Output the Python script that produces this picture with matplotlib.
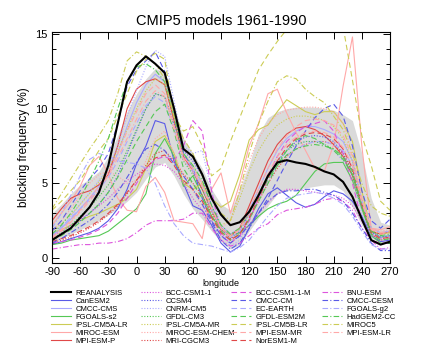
import numpy as np
import matplotlib
matplotlib.use("Agg")
import matplotlib.pyplot as plt
from matplotlib.ticker import MultipleLocator

plt.rcParams['font.family'] = ['Liberation Sans', 'DejaVu Sans']
plt.rcParams['axes.unicode_minus'] = False

# longitude grid (deg)
lon = list(range(-90, 271, 10))

# observed blocking frequency (%)
reanalysis = [1.2, 1.6, 2.0, 2.7, 3.4, 4.4, 6.2, 9.0, 11.8, 12.9, 13.5, 13.0, 12.4, 10.0, 7.3, 6.8, 5.6, 4.0, 2.9,
              2.2, 2.4, 3.1, 4.2, 5.5, 6.4, 6.55, 6.4, 6.3, 6.1, 5.8, 5.6, 5.1, 4.1, 2.6, 1.2, 0.9, 1.1]

# multi-model spread (grey band)
band_low = [1.0, 1.3, 1.6, 1.9, 2.2, 2.5, 2.9, 3.3, 3.8, 4.4, 5.3, 6.1, 6.4, 5.5, 4.3, 3.3, 2.6, 1.8, 1.1,
            0.6, 0.9, 1.8, 2.7, 3.5, 4.3, 4.5, 4.6, 4.7, 4.8, 4.9, 4.9, 4.5, 3.4, 2.2, 1.3, 1.1, 1.1]
band_high = [3.0, 3.6, 4.3, 4.9, 5.3, 5.8, 6.8, 8.2, 9.8, 11.0, 12.0, 12.7, 12.4, 10.2, 8.0, 7.0, 6.0, 4.6, 3.6,
             3.2, 4.6, 6.3, 8.3, 9.4, 9.8, 10.0, 10.1, 10.1, 10.1, 10.0, 9.9, 9.6, 9.2, 7.0, 4.0, 2.4, 2.2]

# legend order: column by column
models = ['CanESM2', 'CMCC-CMS', 'FGOALS-s2', 'IPSL-CM5A-LR', 'MIROC-ESM', 'MPI-ESM-P',
          'BCC-CSM1-1', 'CCSM4', 'CNRM-CM5', 'GFDL-CM3', 'IPSL-CM5A-MR', 'MIROC-ESM-CHEM', 'MRI-CGCM3',
          'BCC-CSM1-1-M', 'CMCC-CM', 'EC-EARTH', 'GFDL-ESM2M', 'IPSL-CM5B-LR', 'MPI-ESM-MR', 'NorESM1-M',
          'BNU-ESM', 'CMCC-CESM', 'FGOALS-g2', 'HadGEM2-CC', 'MIROC5', 'MPI-ESM-LR']

model_vals = {
    'CanESM2': [0.9, 1.1, 1.3, 1.5, 1.7, 2.0, 2.5, 3.3, 4.6, 6.3, 7.5, 9.2, 9.0, 6.5, 5.0, 3.5, 3.2, 2.2, 1.0,
                0.4, 0.8, 2.0, 3.3, 4.3, 4.7, 4.2, 3.7, 3.4, 3.6, 4.1, 4.5, 4.3, 3.8, 2.8, 1.5, 1.1, 1.2],
    'CMCC-CMS': [1.5, 2.0, 2.6, 3.3, 4.0, 4.8, 5.7, 7.0, 8.8, 10.4, 11.6, 12.3, 11.8, 9.5, 7.0, 6.0, 5.0, 3.5, 2.2,
                 1.6, 2.0, 3.2, 4.6, 6.0, 7.2, 8.0, 8.5, 8.8, 8.8, 8.6, 8.3, 7.8, 6.5, 3.8, 1.8, 1.4, 1.5],
    'FGOALS-s2': [0.9, 1.0, 1.2, 1.3, 1.4, 1.5, 1.8, 2.3, 2.8, 3.3, 4.3, 7.0, 8.0, 6.8, 4.8, 5.5, 4.2, 2.8, 1.9,
                  1.5, 1.7, 2.2, 2.8, 3.3, 3.6, 3.8, 4.2, 5.0, 5.8, 6.3, 6.4, 6.4, 5.2, 3.3, 1.5, 1.0, 1.0],
    'IPSL-CM5A-LR': [1.7, 1.9, 2.2, 2.5, 2.8, 3.0, 3.3, 3.6, 4.0, 4.6, 6.0, 7.8, 8.2, 7.0, 5.0, 4.6, 5.0, 4.0, 3.4,
                     3.8, 5.6, 7.9, 8.6, 8.9, 9.8, 10.6, 10.2, 9.8, 9.6, 9.8, 9.8, 9.0, 7.8, 4.5, 1.8, 1.6, 1.7],
    'MIROC-ESM': [2.2, 3.0, 3.8, 4.8, 6.2, 6.8, 5.6, 4.0, 3.2, 3.1, 4.8, 5.4, 4.4, 2.5, 2.4, 2.3, 1.3, 4.6, 5.7,
                  3.0, 5.0, 7.5, 9.0, 11.0, 11.3, 9.7, 8.4, 7.2, 6.0, 5.8, 7.6, 11.5, 14.8, 7.5, 2.0, 1.9, 2.1],
    'MPI-ESM-P': [2.5, 3.3, 4.0, 4.3, 4.5, 4.9, 5.6, 7.5, 10.0, 11.3, 11.8, 12.0, 11.6, 9.2, 6.8, 5.8, 4.6, 3.2, 2.0,
                  1.5, 2.0, 3.5, 5.0, 6.5, 7.6, 8.3, 8.7, 8.8, 8.6, 8.2, 7.6, 6.8, 5.5, 3.5, 1.8, 1.6, 1.8],
    'BCC-CSM1-1': [1.5, 1.8, 2.2, 2.6, 3.0, 3.5, 4.0, 4.6, 5.2, 5.6, 6.0, 6.3, 6.2, 5.8, 5.0, 4.0, 3.2, 2.4, 1.6,
                   1.2, 1.4, 2.2, 3.0, 3.7, 4.3, 4.6, 4.6, 4.5, 4.4, 4.3, 4.2, 4.0, 3.5, 2.5, 1.6, 1.3, 1.4],
    'CCSM4': [1.3, 1.6, 2.0, 2.5, 3.0, 3.6, 4.4, 5.5, 7.0, 8.5, 10.0, 11.0, 10.8, 9.0, 7.2, 6.5, 5.5, 3.5, 2.0,
              1.3, 1.8, 3.0, 4.3, 5.4, 6.4, 7.2, 7.8, 8.1, 8.2, 8.1, 7.8, 7.0, 5.8, 3.5, 1.7, 1.4, 1.5],
    'CNRM-CM5': [1.4, 2.0, 2.8, 3.6, 4.4, 5.2, 6.0, 7.5, 9.5, 11.2, 12.8, 13.9, 13.5, 10.5, 7.5, 7.0, 7.2, 4.5, 2.0,
                 0.8, 1.2, 2.5, 4.0, 5.5, 6.5, 7.2, 7.6, 7.8, 7.8, 7.6, 7.2, 6.5, 5.5, 3.0, 1.5, 1.2, 1.3],
    'GFDL-CM3': [1.3, 1.7, 2.2, 2.8, 3.4, 4.1, 4.9, 5.9, 7.2, 8.6, 10.0, 11.0, 10.8, 8.8, 6.5, 5.6, 4.6, 3.2, 2.0,
                 1.5, 1.9, 3.0, 4.3, 5.5, 6.5, 7.2, 7.6, 7.8, 7.8, 7.6, 7.3, 6.7, 5.6, 3.4, 1.8, 1.4, 1.5],
    'IPSL-CM5A-MR': [1.8, 2.3, 2.9, 3.6, 4.3, 5.1, 6.0, 7.2, 8.6, 10.0, 11.2, 12.0, 11.6, 9.4, 7.0, 6.2, 5.0, 3.4,
                     2.2, 2.5, 4.0, 5.8, 7.2, 8.2, 8.9, 9.3, 9.5, 9.5, 9.4, 9.2, 8.8, 8.0, 6.5, 4.0, 2.0, 1.7, 1.8],
    'MIROC-ESM-CHEM': [1.8, 2.5, 3.3, 4.2, 5.0, 5.6, 5.8, 5.5, 5.0, 5.2, 6.5, 8.0, 8.5, 7.0, 5.5, 4.5, 3.5, 2.6,
                       2.0, 2.5, 4.5, 6.5, 8.0, 9.0, 9.6, 9.9, 10.0, 10.1, 10.1, 10.0, 9.8, 9.0, 7.0, 4.0, 2.0, 1.8,
                       1.9],
    'MRI-CGCM3': [1.0, 1.2, 1.4, 1.7, 2.0, 2.4, 2.9, 3.5, 4.3, 5.2, 6.2, 7.0, 7.2, 6.5, 5.6, 5.0, 4.2, 3.0, 1.9,
                  1.3, 1.6, 2.6, 3.8, 5.0, 6.0, 6.8, 7.3, 7.6, 7.8, 7.8, 7.6, 7.0, 5.8, 3.5, 1.6, 1.2, 1.3],
    'BCC-CSM1-1-M': [1.0, 1.1, 1.2, 1.4, 1.6, 1.9, 2.3, 3.0, 4.0, 5.0, 6.0, 6.6, 6.8, 6.5, 7.5, 9.2, 8.5, 4.5, 1.5,
                     1.0, 1.5, 2.5, 4.0, 5.5, 6.8, 7.8, 8.4, 8.8, 9.0, 9.2, 8.5, 7.0, 5.0, 2.5, 1.2, 1.0, 1.0],
    'CMCC-CM': [1.8, 2.5, 3.5, 4.5, 5.3, 6.0, 7.0, 9.0, 11.5, 12.6, 13.2, 13.8, 12.5, 10.0, 7.0, 6.0, 4.0, 2.5, 1.5,
                1.0, 1.5, 2.2, 3.0, 4.0, 5.2, 6.4, 7.5, 8.5, 9.4, 10.0, 10.3, 9.5, 7.5, 4.5, 2.5, 2.0, 2.6],
    'EC-EARTH': [1.6, 2.1, 2.7, 3.3, 3.9, 4.6, 5.4, 6.5, 7.8, 9.0, 10.2, 10.8, 10.4, 8.6, 6.6, 5.8, 4.8, 3.2, 2.0,
                 1.4, 1.8, 2.8, 4.0, 5.2, 6.2, 6.9, 7.3, 7.6, 7.8, 7.8, 7.6, 7.2, 6.2, 3.8, 2.0, 1.7, 1.8],
    'GFDL-ESM2M': [1.2, 1.5, 1.9, 2.4, 3.0, 3.6, 4.4, 5.4, 6.6, 7.8, 8.8, 9.8, 10.3, 8.5, 6.0, 5.0, 4.0, 2.8, 1.8,
                   1.2, 1.6, 2.6, 3.8, 5.0, 6.2, 7.2, 7.9, 8.2, 8.0, 7.6, 7.2, 6.6, 5.6, 3.5, 1.6, 1.2, 1.3],
    'IPSL-CM5B-LR': [3.2, 3.8, 4.5, 5.2, 6.2, 7.2, 8.0, 9.5, 11.0, 12.5, 13.3, 13.7, 13.3, 9.5, 8.5, 8.8, 7.5, 5.5,
                     6.0, 7.8, 9.4, 11.0, 12.6, 13.6, 14.5, 15.3, 15.8, 16.0, 16.0, 16.0, 15.8, 15.5, 11.9, 8.2,
                     6.2, 3.8, 3.2],
    'MPI-ESM-MR': [1.4, 1.9, 2.5, 3.2, 4.0, 4.8, 5.7, 7.0, 8.5, 9.8, 11.0, 11.6, 11.0, 8.8, 6.8, 6.0, 5.0, 3.4, 2.0,
                   1.5, 2.0, 3.2, 4.6, 6.0, 7.3, 8.2, 8.8, 9.2, 9.3, 9.2, 8.9, 8.2, 6.8, 4.0, 2.0, 1.7, 1.8],
    'NorESM1-M': [1.1, 1.3, 1.5, 1.8, 2.1, 2.5, 3.0, 3.6, 4.4, 5.2, 6.0, 6.7, 6.9, 6.2, 5.2, 4.6, 3.8, 2.7, 1.7,
                  1.2, 1.6, 2.7, 4.0, 5.3, 6.5, 7.4, 8.0, 8.3, 8.4, 8.3, 8.0, 7.3, 6.0, 3.6, 1.7, 1.3, 1.4],
    'BNU-ESM': [0.6, 0.7, 0.8, 0.9, 0.9, 1.0, 1.0, 1.1, 1.3, 1.7, 2.2, 2.5, 2.5, 2.5, 2.6, 3.0, 3.0, 2.0, 1.2,
                0.8, 1.0, 1.5, 2.0, 2.3, 2.9, 3.2, 3.3, 3.4, 3.6, 3.9, 4.0, 3.8, 3.2, 2.0, 1.2, 0.6, 0.7],
    'CMCC-CESM': [1.0, 1.3, 1.7, 2.1, 2.5, 3.0, 3.6, 4.4, 5.4, 6.4, 7.3, 7.6, 7.2, 6.3, 5.5, 4.6, 3.6, 2.4, 1.2,
                  0.6, 1.0, 2.0, 3.0, 3.8, 4.3, 4.5, 4.5, 4.6, 4.6, 4.4, 4.2, 3.8, 3.0, 2.0, 1.0, 0.5, 0.5],
    'FGOALS-g2': [2.0, 3.0, 4.2, 5.5, 6.6, 7.0, 6.8, 6.5, 6.4, 6.3, 6.0, 5.0, 3.5, 2.3, 1.5, 1.0, 0.9, 0.8, 0.6,
                  0.4, 0.7, 1.2, 2.0, 2.8, 3.5, 4.0, 4.2, 4.3, 4.4, 4.3, 4.0, 3.6, 2.8, 1.8, 0.9, 0.6, 0.6],
    'HadGEM2-CC': [1.6, 2.2, 3.0, 4.0, 5.2, 6.5, 8.0, 10.0, 11.8, 12.8, 13.0, 12.6, 11.8, 9.5, 7.0, 6.2, 5.2, 3.5,
                   2.2, 1.6, 2.0, 3.0, 4.2, 5.3, 6.2, 6.9, 7.3, 7.5, 7.6, 7.5, 7.3, 6.8, 5.8, 3.5, 1.8, 1.5, 1.6],
    'MIROC5': [3.3, 4.3, 5.3, 6.3, 7.3, 8.2, 9.2, 11.0, 13.2, 13.8, 13.5, 13.0, 12.0, 9.5, 8.0, 7.0, 5.5, 4.0, 3.0,
               2.5, 4.5, 7.0, 9.0, 10.5, 11.8, 12.2, 12.0, 11.3, 10.8, 10.4, 9.5, 8.6, 7.0, 5.0, 3.5, 3.0, 2.8],
    'MPI-ESM-LR': [1.3, 1.8, 2.4, 3.1, 3.8, 4.6, 5.5, 6.7, 8.0, 9.3, 10.5, 11.2, 10.8, 8.6, 6.6, 5.8, 4.8, 3.3, 2.0,
                   1.4, 1.9, 3.0, 4.3, 5.6, 6.8, 7.6, 8.1, 8.4, 8.5, 8.4, 8.1, 7.4, 6.2, 3.7, 1.9, 1.6, 1.7],
}

# colour / line style per model
magenta, blue, lav, green, yellow, pink, red = '#dd55dd', '#5a5ae6', '#aaaaff', '#55c855', '#cccc55', '#ffa8a8', '#e04848'
dash, dot, dashdot = (0, (5, 3)), (0, (1, 1.5)), (0, (5, 2, 1, 2))
styles = {
    'BCC-CSM1-1': (magenta, dot), 'BCC-CSM1-1-M': (magenta, dash), 'BNU-ESM': (magenta, dashdot),
    'CanESM2': (blue, '-'), 'CCSM4': (blue, dot), 'CMCC-CM': (blue, dash), 'CMCC-CESM': (blue, dashdot),
    'CMCC-CMS': (lav, '-'), 'CNRM-CM5': (lav, dot), 'EC-EARTH': (lav, dash), 'FGOALS-g2': (lav, dashdot),
    'FGOALS-s2': (green, '-'), 'GFDL-CM3': (green, dot), 'GFDL-ESM2M': (green, dash), 'HadGEM2-CC': (green, dashdot),
    'IPSL-CM5A-LR': (yellow, '-'), 'IPSL-CM5A-MR': (yellow, dot), 'IPSL-CM5B-LR': (yellow, dash),
    'MIROC5': (yellow, dashdot),
    'MIROC-ESM': (pink, '-'), 'MIROC-ESM-CHEM': (pink, dot), 'MPI-ESM-MR': (pink, dash), 'MPI-ESM-LR': (pink, dashdot),
    'MPI-ESM-P': (red, '-'), 'MRI-CGCM3': (red, dot), 'NorESM1-M': (red, dash),
}

fig = plt.figure(figsize=(4.32, 3.54), dpi=100)
ax = fig.add_axes([0.1204, 0.2571, 0.7824, 0.6525])

ax.fill_between(lon, band_low, band_high, color='#dadada', lw=0, zorder=1)

handles = {}
for m in models:
    c, ls = styles[m]
    handles[m], = ax.plot(lon, model_vals[m], color=c, linestyle=ls, lw=0.8, zorder=2, label=m)
handles['REANALYSIS'], = ax.plot(lon, reanalysis, color='black', lw=1.5, zorder=3, label='REANALYSIS')

ax.set_xlim(-90, 270)
ax.set_ylim(-0.33, 15.13)
ax.xaxis.set_major_locator(MultipleLocator(30))
ax.yaxis.set_major_locator(MultipleLocator(5))
ax.yaxis.set_minor_locator(MultipleLocator(1))
ax.tick_params(which='both', direction='in', top=True, right=True, labelsize=8, pad=3)
ax.tick_params(which='major', length=5, width=0.7)
ax.tick_params(which='minor', length=3, width=0.7)
ax.tick_params(axis='x', which='minor', bottom=False, top=False)
for s in ax.spines.values():
    s.set_linewidth(0.8)

ax.set_title('CMIP5 models 1961-1990', fontsize=10.5, pad=5)
ax.set_ylabel('blocking frequency (%)', fontsize=8.5, labelpad=4)
ax.set_xlabel('longitude', fontsize=6.5, labelpad=1)

# legend: four separate columns
cols = [['REANALYSIS'] + models[0:6], models[6:13], models[13:20], models[20:26]]
xs = [0.118, 0.327, 0.535, 0.745]
for names, x0 in zip(cols, xs):
    fig.legend([handles[n] for n in names], names, loc='upper left', bbox_to_anchor=(x0, 0.182),
               frameon=False, fontsize=5.5, handlelength=2.6, handletextpad=0.6,
               labelspacing=0.08, borderpad=0, borderaxespad=0)

fig.savefig('out.png', dpi=100)
